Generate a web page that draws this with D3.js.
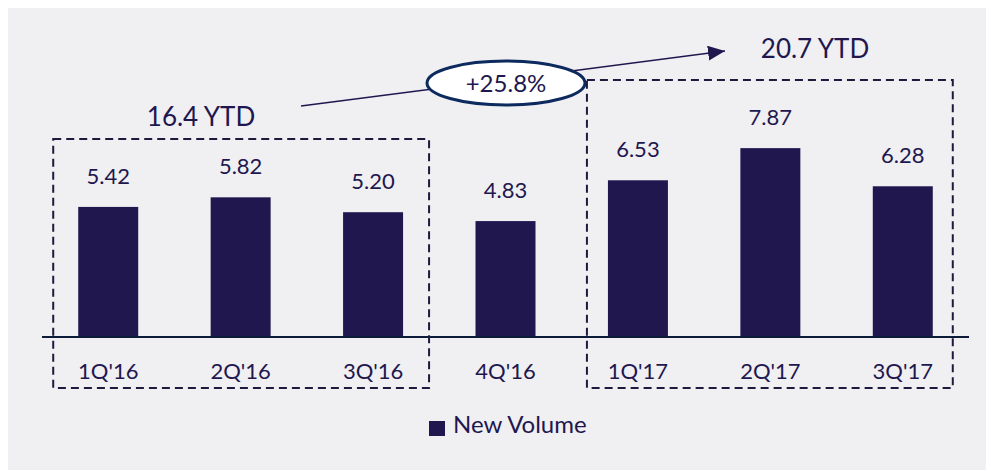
<!DOCTYPE html>
<html>
<head>
<meta charset="utf-8">
<script src="https://cdn.jsdelivr.net/npm/d3@7"></script>
<style>
  html, body { margin: 0; padding: 0; background: #ffffff; }
  svg { display: block; font-family: Lato, "Open Sans", sans-serif; }
</style>
</head>
<body>
<div id="chart"></div>
<script>
// data
var quarters = ["1Q'16", "2Q'16", "3Q'16", "4Q'16", "1Q'17", "2Q'17", "3Q'17"];
var newVolume = [5.42, 5.82, 5.20, 4.83, 6.53, 7.87, 6.28];
var ytdLabels = ["16.4 YTD", "20.7 YTD"];
var ytdGroups = [["1Q'16", "3Q'16"], ["1Q'17", "3Q'17"]];
var growthLabel = "+25.8%";
var legendLabel = "New Volume";

var svgWidth = 986, svgHeight = 470;
var ink = "#21174f";

var svg = d3.select("#chart")
  .append("svg")
    .attr("width", svgWidth)
    .attr("height", svgHeight);

// grey panel
svg.append("rect")
  .attr("x", 8).attr("y", 8)
  .attr("width", svgWidth - 8).attr("height", svgHeight - 8)
  .attr("fill", "#f0eff2");

var baseY = 337;

var x = d3.scaleBand()
  .domain(quarters)
  .range([42, 969])
  .paddingInner(0.547)
  .paddingOuter(0.2735);

var y = d3.scaleLinear()
  .domain([0, 10])
  .range([baseY, 97]);

// bars
svg.selectAll(".bar")
  .data(newVolume)
  .enter().append("rect")
    .attr("class", "bar")
    .attr("x", function(d, i) { return x(quarters[i]); })
    .attr("y", function(d) { return y(d); })
    .attr("width", x.bandwidth())
    .attr("height", function(d) { return baseY - y(d); })
    .attr("fill", ink);

// value labels
svg.selectAll(".val")
  .data(newVolume)
  .enter().append("text")
    .attr("class", "val")
    .attr("x", function(d, i) { return x(quarters[i]) + x.bandwidth() / 2; })
    .attr("y", function(d) { return y(d) - 23; })
    .attr("text-anchor", "middle")
    .attr("font-size", "22px")
    .attr("fill", ink)
    .text(d3.format(".2f"));

// x axis
var xAxis = svg.append("g")
  .attr("transform", "translate(0," + baseY + ")")
  .call(d3.axisBottom(x).tickSize(0).tickPadding(0));
xAxis.select(".domain")
  .attr("d", "M" + x.range()[0] + ",0H" + x.range()[1])
  .attr("stroke", "#0d1b3a")
  .attr("stroke-width", 2);
xAxis.selectAll(".tick text")
  .attr("y", 42)
  .attr("dy", 0)
  .attr("font-size", "22px")
  .attr("font-family", "Lato, sans-serif")
  .attr("fill", ink);

// dashed YTD boxes
var boxTops = [139, 80];
var boxPad = [[25, 26], [21, 20]];
ytdGroups.forEach(function(g, i) {
  var x0 = x(g[0]) - boxPad[i][0];
  var x1 = x(g[1]) + x.bandwidth() + boxPad[i][1];
  svg.append("rect")
    .attr("x", x0).attr("y", boxTops[i])
    .attr("width", x1 - x0).attr("height", 388 - boxTops[i])
    .attr("fill", "none")
    .attr("stroke", "#1e1a3d")
    .attr("stroke-width", 2)
    .attr("stroke-dasharray", "8,5");
});

// YTD labels
var ytdPos = [[201, 126], [815, 58]];
ytdLabels.forEach(function(t, i) {
  svg.append("text")
    .attr("x", ytdPos[i][0]).attr("y", ytdPos[i][1])
    .attr("text-anchor", "middle")
    .attr("font-size", "26px")
    .attr("fill", ink)
    .text(t);
});

// growth arrow
svg.append("defs").append("marker")
  .attr("id", "head")
  .attr("viewBox", "0 0 10 10")
  .attr("refX", 10).attr("refY", 5)
  .attr("markerWidth", 17).attr("markerHeight", 15)
  .attr("markerUnits", "userSpaceOnUse")
  .attr("orient", "auto")
  .attr("preserveAspectRatio", "none")
  .append("path")
    .attr("d", "M0,0L10,5L0,10Z")
    .attr("fill", ink);

svg.append("line")
  .attr("x1", 301).attr("y1", 106)
  .attr("x2", 725).attr("y2", 51)
  .attr("stroke", ink)
  .attr("stroke-width", 1.5)
  .attr("marker-end", "url(#head)");

svg.append("ellipse")
  .attr("cx", 506).attr("cy", 83)
  .attr("rx", 79).attr("ry", 22)
  .attr("fill", "#ffffff")
  .attr("stroke", "#0d2a5e")
  .attr("stroke-width", 3);

svg.append("text")
  .attr("x", 506).attr("y", 92)
  .attr("text-anchor", "middle")
  .attr("font-size", "24px")
  .attr("fill", ink)
  .text(growthLabel);

// legend
svg.append("rect")
  .attr("x", 429).attr("y", 421)
  .attr("width", 16).attr("height", 15)
  .attr("fill", ink);
svg.append("text")
  .attr("x", 453).attr("y", 433)
  .attr("font-size", "24px")
  .attr("fill", ink)
  .text(legendLabel);
</script>
</body>
</html>
